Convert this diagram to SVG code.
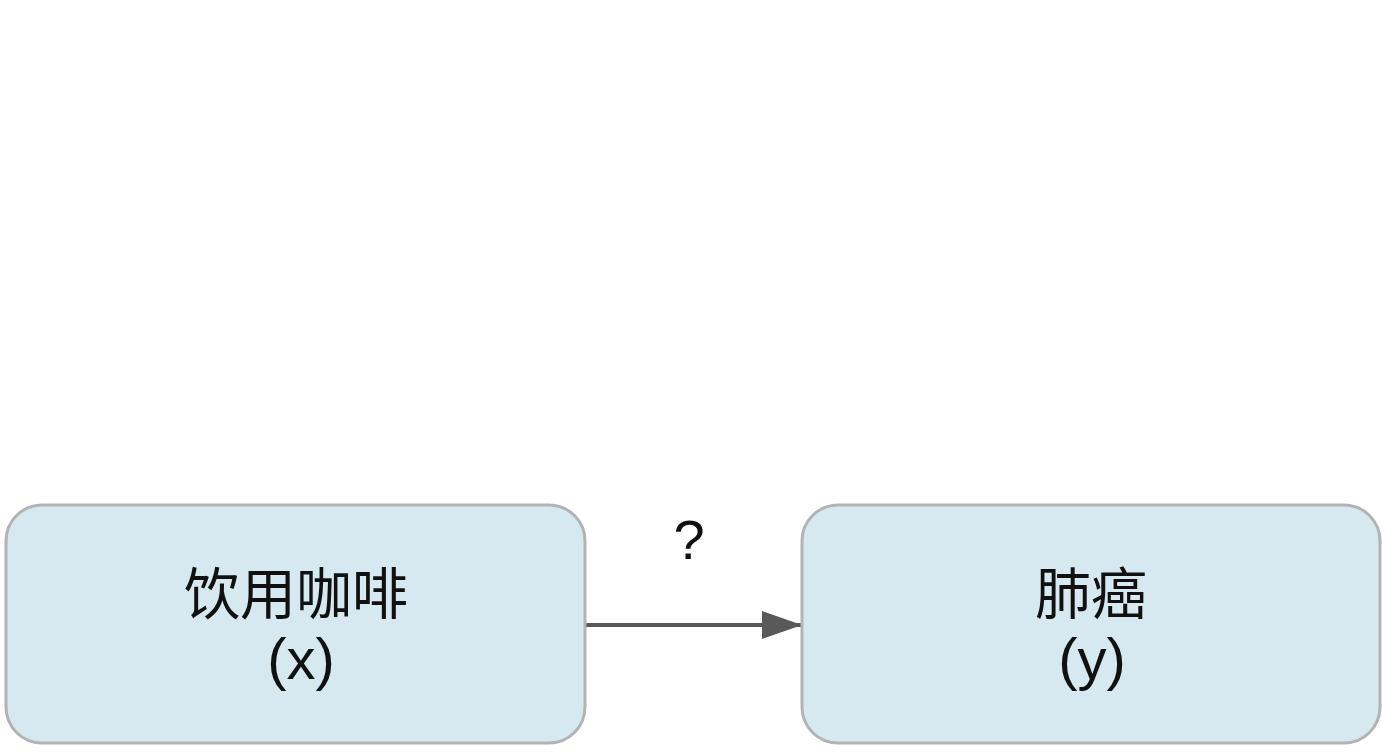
<svg xmlns="http://www.w3.org/2000/svg" width="1382" height="752" viewBox="0 0 1382 752">
<style>
.node{fill:#d6e8f0;stroke:#b3b3b3;stroke-width:3}
.lbl{font-family:"Liberation Sans","Noto Sans CJK SC",sans-serif;font-size:56px;fill:#111;text-anchor:middle}
.sub{font-size:58px}
.edge{stroke:#595959;stroke-width:4;fill:none}
</style>
<defs>
<marker id="ah" markerUnits="userSpaceOnUse" markerWidth="40" markerHeight="28" refX="40" refY="14" orient="auto">
<path d="M0,0 L40,14 L0,28 Z" fill="#595959"/>
</marker>
</defs>
<rect width="1382" height="752" fill="#ffffff"/>
<g id="edges">
<line class="edge" x1="586" y1="625" x2="802" y2="625" marker-end="url(#ah)"/>
<text class="lbl" x="689" y="559" style="font-size:56px">?</text>
</g>
<g id="node-x">
<rect class="node" x="6" y="505" width="579" height="238" rx="36"/>
<text class="lbl" x="296" y="614">饮用咖啡</text>
<text class="lbl sub" x="301" y="679">(x)</text>
</g>
<g id="node-y">
<rect class="node" x="802" y="505" width="578" height="238" rx="36"/>
<text class="lbl" x="1091" y="614">肺癌</text>
<text class="lbl sub" x="1092" y="679">(y)</text>
</g>
</svg>
